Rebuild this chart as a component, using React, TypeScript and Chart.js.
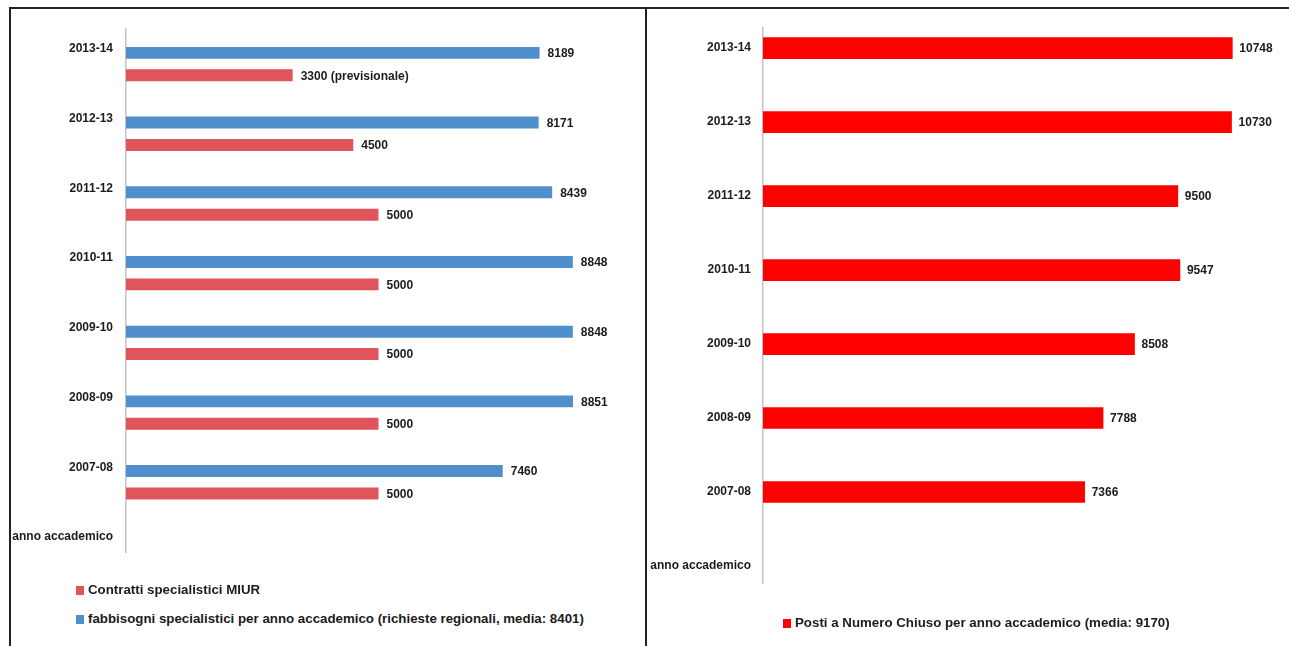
import React, { useEffect, useRef } from 'react';
import { Chart, registerables } from 'chart.js';

Chart.register(...registerables);

// ---- data ----
const years = ['2013-14', '2012-13', '2011-12', '2010-11', '2009-10', '2008-09', '2007-08', 'anno accademico'];
const fabbisogni = [8189, 8171, 8439, 8848, 8848, 8851, 7460, null];
const contratti = [3300, 4500, 5000, 5000, 5000, 5000, 5000, null];
const contrattiNote = ['(previsionale)', '', '', '', '', '', '', ''];
const posti = [10748, 10730, 9500, 9547, 8508, 7788, 7366, null];
const leftLegend = [
  'Contratti specialistici MIUR',
  'fabbisogni specialistici per anno accademico (richieste regionali, media: 8401)',
];
const rightLegend = ['Posti a Numero Chiuso per anno accademico (media: 9170)'];

// ---- style ----
const FONT = '"Liberation Sans", Arial, sans-serif';
const BLUE = '#4f8fcc';
const RED_L = '#e0545c';
const RED_R = '#ff0000';
const TEXT = '#1c1c1c';
const AXIS = '#c4c4c4';

const valueLabels = {
  id: 'valueLabels',
  afterDatasetsDraw(chart: any, _args: any, opts: any) {
    const ctx = chart.ctx;
    ctx.save();
    ctx.font = `bold 12px ${FONT}`;
    ctx.fillStyle = TEXT;
    ctx.textBaseline = 'middle';
    ctx.textAlign = 'left';
    chart.data.datasets.forEach((ds: any, di: number) => {
      const meta = chart.getDatasetMeta(di);
      meta.data.forEach((el: any, i: number) => {
        const v = ds.data[i];
        if (v == null) return;
        const note = ds.notes ? ds.notes[i] : '';
        ctx.fillText(note ? `${v} ${note}` : String(v), el.x + (opts.gap ?? 8), el.y + 1);
      });
    });
    ctx.restore();
  },
};

function yScale(width: number, start: number, labelOffset: number, padding: number) {
  return {
    afterFit: (s: any) => {
      s.width = width;
    },
    afterBuildTicks: (s: any) => {
      s._startValue = start;
      s._valueRange = 7.5;
    },
    grid: { display: false, drawTicks: false },
    border: { display: true, color: AXIS, width: 1.5 },
    ticks: {
      padding,
      labelOffset,
      color: TEXT,
      autoSkip: false,
      font: { family: FONT, size: 12, weight: 'bold' },
    },
  };
}

function LegendItem({ x, y, color, text }: { x: number; y: number; color: string; text: string }) {
  return (
    <div
      style={{
        position: 'absolute',
        left: x,
        top: y - 9,
        height: 18,
        display: 'flex',
        alignItems: 'center',
        whiteSpace: 'nowrap',
        font: `bold 13.3px ${FONT}`,
        color: TEXT,
      }}
    >
      <span style={{ display: 'inline-block', width: 8, height: 9, background: color, marginRight: 4, marginTop: 2 }} />
      <span>{text}</span>
    </div>
  );
}

export default function App() {
  const leftRef = useRef<HTMLCanvasElement>(null);
  const rightRef = useRef<HTMLCanvasElement>(null);

  useEffect(() => {
    const left = new Chart(leftRef.current!, {
      type: 'bar',
      data: {
        labels: years,
        datasets: [
          {
            label: leftLegend[1],
            data: fabbisogni,
            backgroundColor: BLUE,
            categoryPercentage: 0.643,
            barPercentage: 0.533,
          } as any,
          {
            label: leftLegend[0],
            data: contratti,
            notes: contrattiNote,
            backgroundColor: RED_L,
            categoryPercentage: 0.643,
            barPercentage: 0.533,
          } as any,
        ],
      },
      options: {
        indexAxis: 'y',
        animation: false,
        responsive: false,
        maintainAspectRatio: false,
        layout: { padding: { left: 0, top: 18, right: 15, bottom: 57 } },
        plugins: { legend: { display: false }, tooltip: { enabled: false }, valueLabels: { gap: 8 } } as any,
        scales: {
          x: { display: false, min: 0, max: 10000 },
          y: yScale(116, -0.5, -15, 13) as any,
        },
      },
      plugins: [valueLabels],
    });

    const right = new Chart(rightRef.current!, {
      type: 'bar',
      data: {
        labels: years,
        datasets: [
          {
            label: rightLegend[0],
            data: posti,
            backgroundColor: RED_R,
            barThickness: 21,
          } as any,
        ],
      },
      options: {
        indexAxis: 'y',
        animation: false,
        responsive: false,
        maintainAspectRatio: false,
        layout: { padding: { left: 0, top: 18, right: 2, bottom: 46 } },
        plugins: { legend: { display: false }, tooltip: { enabled: false }, valueLabels: { gap: 7 } } as any,
        scales: {
          x: { display: false, min: 0, max: 12000 },
          y: yScale(115, -0.27, 0, 12) as any,
        },
      },
      plugins: [valueLabels],
    });

    return () => {
      left.destroy();
      right.destroy();
    };
  }, []);

  return (
    <div
      style={{
        position: 'fixed',
        left: 0,
        top: 0,
        width: 1289,
        height: 646,
        overflow: 'hidden',
        background: '#fff',
      }}
    >
      <div
        style={{
          position: 'absolute',
          left: 9,
          top: 7,
          width: 1400,
          height: 700,
          borderLeft: '2px solid #222',
          borderTop: '2px solid #222',
        }}
      />
      <div style={{ position: 'absolute', left: 645, top: 7, width: 2, height: 700, background: '#222' }} />
      <canvas ref={leftRef} width={636} height={600} style={{ position: 'absolute', left: 10, top: 9 }} />
      <canvas ref={rightRef} width={641} height={620} style={{ position: 'absolute', left: 648, top: 9 }} />
      <LegendItem x={76} y={589} color={RED_L} text={leftLegend[0]} />
      <LegendItem x={76} y={618} color={BLUE} text={leftLegend[1]} />
      <LegendItem x={783} y={622} color={RED_R} text={rightLegend[0]} />
    </div>
  );
}
